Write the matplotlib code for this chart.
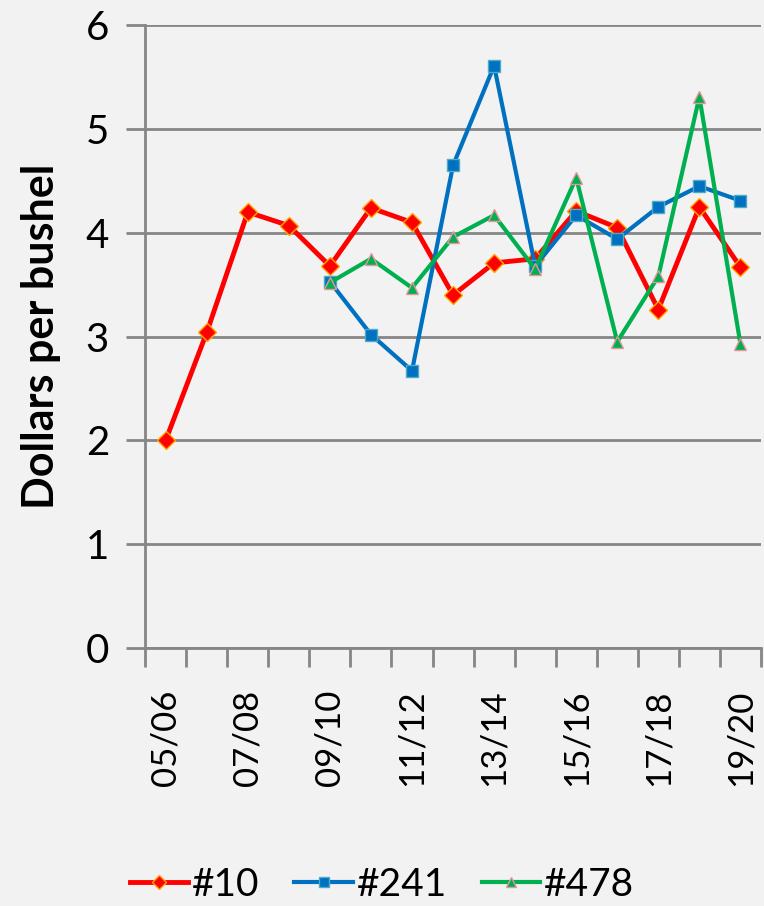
import matplotlib.pyplot as plt
import numpy as np

seasons = ["05/06", "06/07", "07/08", "08/09", "09/10", "10/11", "11/12", "12/13",
           "13/14", "14/15", "15/16", "16/17", "17/18", "18/19", "19/20"]
n10 = [2.00, 3.04, 4.20, 4.07, 3.68, 4.24, 4.10, 3.40, 3.71, 3.75, 4.21, 4.05, 3.26, 4.25, 3.67]
n241 = [np.nan, np.nan, np.nan, np.nan, 3.53, 3.02, 2.67, 4.65, 5.61, 3.68, 4.17, 3.94, 4.25, 4.45, 4.31]
n478 = [np.nan, np.nan, np.nan, np.nan, 3.52, 3.75, 3.47, 3.96, 4.17, 3.65, 4.53, 2.95, 3.58, 5.31, 2.93]

plt.rcParams['font.family'] = ['Lato', 'DejaVu Sans']
bg = '#f2f2f2'
grid = '#868686'

fig = plt.figure(figsize=(7.64, 9.06), dpi=100, facecolor=bg)
ax = fig.add_axes([0.19, 0.285, 0.806, 0.687], facecolor=bg)

x = np.arange(len(seasons))
ax.plot(x, n10, color='#ff0000', lw=3.5, marker='D', markersize=9,
        markerfacecolor='#ff0000', markeredgecolor='#ffa500', markeredgewidth=1, label='#10', zorder=3)
ax.plot(x, n241, color='#0070c0', lw=3, marker='s', markersize=9,
        markerfacecolor='#0070c0', markeredgecolor='#4bacc6', markeredgewidth=1, label='#241', zorder=4)
ax.plot(x, n478, color='#00b050', lw=3, marker='^', markersize=9,
        markerfacecolor='#00b050', markeredgecolor='#e6959a', markeredgewidth=1, label='#478', zorder=5)

ax.set_xlim(-0.5, len(seasons) - 0.5)
ax.set_ylim(0, 6)
ax.set_yticks(range(7))
ax.yaxis.grid(True, color=grid, lw=2)
ax.set_axisbelow(True)

ax.set_xticks(x[::2])
ax.set_xticklabels(seasons[::2], rotation=90, fontsize=25)
ax.set_xticks(np.arange(-0.5, len(seasons)), minor=True)
ax.tick_params(axis='x', which='major', length=0, pad=30)
ax.tick_params(axis='x', which='minor', length=14, width=2, color=grid)
ax.tick_params(axis='y', length=14, width=2, color=grid, labelsize=29, pad=12)

for s in ['top', 'right']:
    ax.spines[s].set_visible(False)
for s in ['left', 'bottom']:
    ax.spines[s].set_color(grid)
    ax.spines[s].set_linewidth(2)

ax.set_ylabel('Dollars per bushel', fontsize=31, fontweight='bold', labelpad=18)

fig.legend(loc='lower center', bbox_to_anchor=(0.5, -0.035), ncol=3, frameon=False,
           fontsize=28, handlelength=1.5, handletextpad=0.1, columnspacing=0.9,
           markerscale=0.8)

fig.savefig('out.png', dpi=100, facecolor=bg)
